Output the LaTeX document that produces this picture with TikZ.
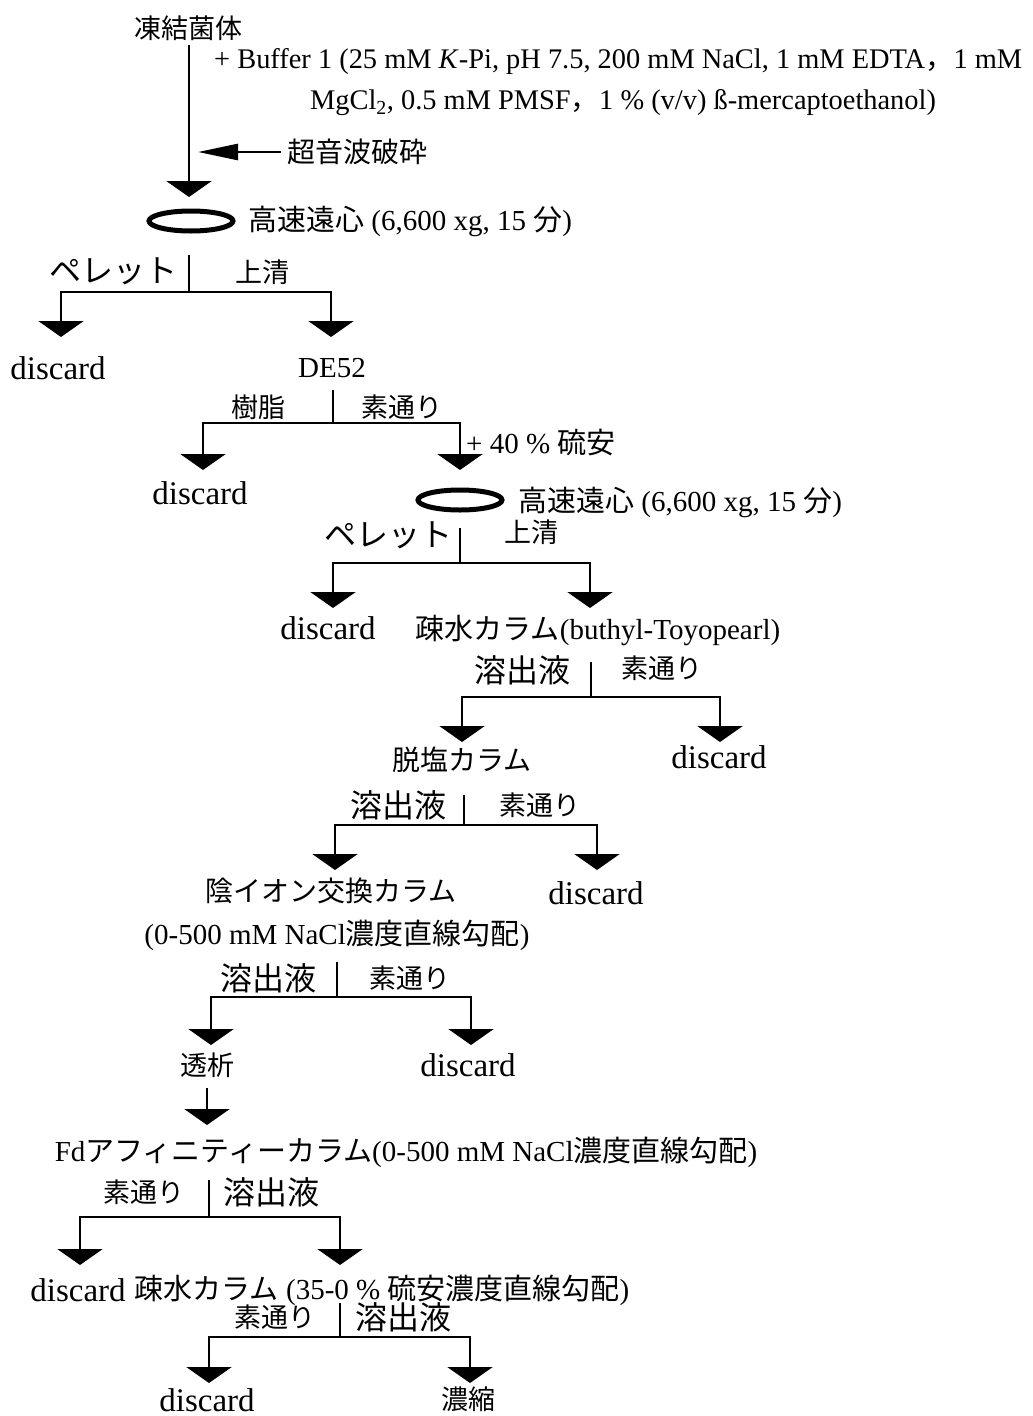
\documentclass[tikz,border=0pt]{standalone}
\usepackage{fontspec}
\setmainfont{Liberation Serif}
\newfontfamily\jp{Noto Sans CJK JP}
\usetikzlibrary{arrows.meta,shapes.geometric}
\newcommand\J[1]{{\jp #1}}
\begin{document}
\begin{tikzpicture}[x=1pt,y=-1pt,
  >={Triangle[width=45pt,length=16pt]},
  ln/.style={line width=2.8pt},
  lat/.style={font=\fontsize{29}{31}\selectfont, inner sep=0pt},
  buf/.style={font=\fontsize{28.4}{31}\selectfont, inner sep=0pt},
  disc/.style={font=\fontsize{33}{36}\selectfont, inner sep=0pt},
  jps/.style={font=\jp\fontsize{27}{29}\selectfont, inner sep=0pt},
  jpm/.style={font=\jp\fontsize{28}{30}\selectfont, inner sep=0pt},
  jpb/.style={font=\jp\fontsize{32}{34}\selectfont, inner sep=0pt},
  cfg/.style={ellipse, draw, line width=5pt, minimum width=84pt, minimum height=20pt, inner sep=0pt}]
\fill[white] (0,0) rectangle (1033,1416);
\path[use as bounding box] (0,0) rectangle (1033,1416);

% top
\node[jps] (n0) at (188,28) {凍結菌体};
\node[buf,anchor=west] (buf1) at (214,62) {+ Buffer 1 (25 mM \textit{K}-Pi, pH 7.5, 200 mM NaCl, 1 mM EDTA\J{，}1 mM};
\node[buf,anchor=west] (buf2) at (310,103) {MgCl\textsubscript{2}, 0.5 mM PMSF\J{，}1 \% (v/v) ß-mercaptoethanol)};
\coordinate (a0s) at (189,45);
\coordinate (a0e) at (189,197);
\draw[ln,->] (a0s) -- (a0e);
\node[jpm,anchor=west] (son) at (287,152) {超音波破砕};
\coordinate (sonT) at (198,152);
\draw[ln,-{Triangle[width=16pt,length=40pt]}] ([xshift=-6pt]son.west) -- (sonT);
\node[cfg] (c1) at (191,221) {};
\node[lat,anchor=west] (cf1) at (248,221) {\J{高速遠心} (6,600 xg, 15 \J{分})};

% split 1
\coordinate (s1t) at (189,255); \coordinate (s1j) at (189,292);
\coordinate (s1l) at (61,337);  \coordinate (s1r) at (331,337);
\draw[ln] (s1t) -- (s1j);
\draw[ln,<->] (s1l) |- (s1j) -| (s1r);
\node[jpb] (p1) at (113,271) {ペレット};
\node[jps] (u1) at (262,272) {上清};
\node[disc] (d1) at (58,368) {discard};
\node[lat] (de) at (332,368) {DE52};

% split 2
\coordinate (s2t) at (333,390); \coordinate (s2j) at (333,423);
\coordinate (s2l) at (203,470); \coordinate (s2r) at (460,470);
\draw[ln] (s2t) -- (s2j);
\draw[ln,<->] (s2l) |- (s2j) -| (s2r);
\node[jps] (jushi) at (258,407) {樹脂};
\node[jps] (so1) at (402,407) {素通り};
\node[disc] (d2) at (200,493) {discard};
\node[lat,anchor=west] (am) at (466,442) {+ 40 \% \J{硫安}};
\node[cfg] (c2) at (460,500) {};
\node[lat,anchor=west] (cf2) at (518,502) {\J{高速遠心} (6,600 xg, 15 \J{分})};

% split 3
\coordinate (s3t) at (460,528); \coordinate (s3j) at (460,563);
\coordinate (s3l) at (333,608); \coordinate (s3r) at (590,608);
\draw[ln] (s3t) -- (s3j);
\draw[ln,<->] (s3l) |- (s3j) -| (s3r);
\node[jpb] (p2) at (388,535) {ペレット};
\node[jps] (u2) at (531,532) {上清};
\node[disc] (d3) at (328,628) {discard};
\node[lat] (hyd1) at (598,630) {\J{疎水カラム}(buthyl-Toyopearl)};

% split 4
\coordinate (s4t) at (591,662); \coordinate (s4j) at (591,697);
\coordinate (s4l) at (462,742); \coordinate (s4r) at (720,742);
\draw[ln] (s4t) -- (s4j);
\draw[ln,<->] (s4l) |- (s4j) -| (s4r);
\node[jpb] (e1) at (522,670) {溶出液};
\node[jps] (so2) at (662,668) {素通り};
\node[jpm] (ds) at (462,760) {脱塩カラム};
\node[disc] (d4) at (719,757) {discard};

% split 5
\coordinate (s5t) at (464,795); \coordinate (s5j) at (464,825);
\coordinate (s5l) at (335,870); \coordinate (s5r) at (597,870);
\draw[ln] (s5t) -- (s5j);
\draw[ln,<->] (s5l) |- (s5j) -| (s5r);
\node[jpb] (e2) at (398,805) {溶出液};
\node[jps] (so3) at (540,805) {素通り};
\node[jpm] (an) at (331,891) {陰イオン交換カラム};
\node[disc] (d5) at (596,893) {discard};
\node[lat] (grad) at (337,935) {(0-500 mM NaCl\J{濃度直線勾配})};

% split 6
\coordinate (s6t) at (337,962); \coordinate (s6j) at (337,997);
\coordinate (s6l) at (211,1045); \coordinate (s6r) at (471,1045);
\draw[ln] (s6t) -- (s6j);
\draw[ln,<->] (s6l) |- (s6j) -| (s6r);
\node[jpb] (e3) at (268,978) {溶出液};
\node[jps] (so4) at (410,978) {素通り};
\node[jps] (dia) at (207,1065) {透析};
\node[disc] (d6) at (468,1065) {discard};

% arrow 7
\coordinate (a7s) at (207,1088);
\coordinate (a7e) at (207,1125);
\draw[ln,->] (a7s) -- (a7e);
\node[lat] (fd) at (406,1152) {Fd\J{アフィニティーカラム}(0-500 mM NaCl\J{濃度直線勾配})};

% split 8
\coordinate (s8t) at (209,1180); \coordinate (s8j) at (209,1217);
\coordinate (s8l) at (80,1265);  \coordinate (s8r) at (340,1265);
\draw[ln] (s8t) -- (s8j);
\draw[ln,<->] (s8l) |- (s8j) -| (s8r);
\node[jps] (so5) at (144,1192) {素通り};
\node[jpb] (e4) at (271,1192) {溶出液};
\node[disc] (d7) at (78,1290) {discard};
\node[lat] (hyd2) at (382,1290) {\J{疎水カラム} (35-0 \% \J{硫安濃度直線勾配})};

% split 9
\coordinate (s9t) at (340,1303); \coordinate (s9j) at (340,1337);
\coordinate (s9l) at (209,1383); \coordinate (s9r) at (470,1383);
\draw[ln] (s9t) -- (s9j);
\draw[ln,<->] (s9l) |- (s9j) -| (s9r);
\node[jps] (so6) at (275,1317) {素通り};
\node[jpb] (e5) at (403,1317) {溶出液};
\node[disc] (d8) at (207,1400) {discard};
\node[jps] (con) at (468,1399) {濃縮};
\end{tikzpicture}
\end{document}
